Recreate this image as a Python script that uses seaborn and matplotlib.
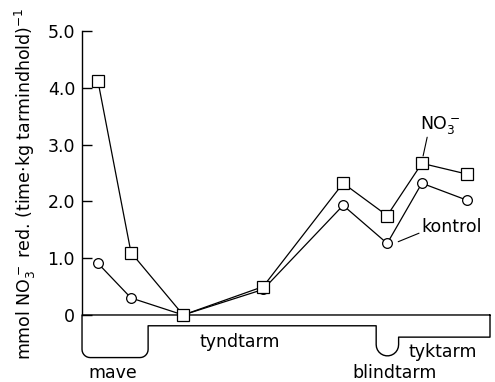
import numpy as np
import pandas as pd
import matplotlib
matplotlib.use("Agg")
import matplotlib.pyplot as plt
import seaborn as sns

# --- data ---
positions = [3.9, 12.0, 24.8, 44.4, 64.0, 74.8, 83.3, 94.4]   # position along gut
no3_values = [4.12, 1.10, 0.0, 0.50, 2.32, 1.75, 2.67, 2.48]
kontrol_values = [0.91, 0.30, 0.0, 0.45, 1.93, 1.26, 2.32, 2.02]
y_ticks = [0, 1, 2, 3, 4, 5]
y_ticklabels = ["0", "1.0", "2.0", "3.0", "4.0", "5.0"]
section_labels = ["mave", "tyndtarm", "blindtarm", "tyktarm"]

sns.set_style("ticks")
plt.rcParams['font.family'] = ['DejaVu Sans']
plt.rcParams['text.color'] = 'black'
plt.rcParams['ytick.color'] = 'black'
plt.rcParams['ytick.labelcolor'] = 'black'
plt.rcParams['axes.edgecolor'] = 'black'

fig = plt.figure(figsize=(4.95, 3.82), dpi=100)
ax = fig.add_axes([0.1657, 0.0, 0.8242, 0.9188])

df = pd.DataFrame({"pos": positions * 2,
                   "val": no3_values + kontrol_values,
                   "serie": ["NO3"] * len(positions) + ["kontrol"] * len(positions)})

sns.lineplot(data=df[df.serie == "NO3"], x="pos", y="val", ax=ax, color="black",
             lw=0.9, marker="s", markersize=8, markerfacecolor="white",
             markeredgecolor="black", markeredgewidth=0.9, zorder=4)
sns.lineplot(data=df[df.serie == "kontrol"], x="pos", y="val", ax=ax, color="black",
             lw=0.9, marker="o", markersize=7, markerfacecolor="white",
             markeredgecolor="black", markeredgewidth=0.9, zorder=3)

ax.set_xlim(0, 100)
ax.set_ylim(-1.18, 5.0)

# gut outline (schematic)
asp = 4.08 / 56.8   # x-data units -> y-data units for equal pixel size
rx = 2.0
ry = rx * asp
xs, ys = [100, 0, 0], [0, 0, -0.75 + ry]
t = np.linspace(np.pi, 1.5 * np.pi, 8)
xs += list(rx + rx * np.cos(t)); ys += list(-0.75 + ry + ry * np.sin(t))
t = np.linspace(1.5 * np.pi, 2 * np.pi, 8)
xs += list(16.2 - rx + rx * np.cos(t)); ys += list(-0.75 + ry + ry * np.sin(t))
xs += [16.2, 72.1]; ys += [-0.19, -0.19]
pr = (77.6 - 72.1) / 2
pry = pr * asp
t = np.linspace(np.pi, 2 * np.pi, 14)
xs += list(72.1 + pr + pr * np.cos(t)); ys += list(-0.72 + pry + pry * np.sin(t))
xs += [77.6, 100, 100]; ys += [-0.39, -0.39, 0]
ax.plot(xs, ys, color="black", lw=1.0, clip_on=False, zorder=2)

ax.spines["top"].set_visible(False)
ax.spines["right"].set_visible(False)
ax.spines["bottom"].set_visible(False)
ax.spines["left"].set_bounds(0, 5)
ax.spines["left"].set_linewidth(1.0)
ax.set_yticks(y_ticks)
ax.set_yticklabels(y_ticklabels)
ax.tick_params(axis="y", direction="in", length=7, width=1.0, pad=5, labelsize=12.5)
ax.set_xticks([])
ax.set_xlabel("")
ax.set_ylabel("")

fig.text(25 / 495, 1 - 184 / 382, r"mmol NO$_3^-$ red. (time$\cdot$kg tarmindhold)$^{-1}$",
         rotation=90, ha="center", va="center", fontsize=12.5)

fs = 12.5
ax.text(7.6, -1.03, section_labels[0], ha="center", va="center", fontsize=fs)
ax.text(38.7, -0.47, section_labels[1], ha="center", va="center", fontsize=fs)
ax.text(76.5, -1.03, section_labels[2], ha="center", va="center", fontsize=fs)
ax.text(88.5, -0.65, section_labels[3], ha="center", va="center", fontsize=fs)

# series annotations
ax.text(87.7, 3.35, r"NO$_3^-$", ha="center", va="center", fontsize=fs)
ax.plot([84.6, 83.6], [3.13, 2.80], color="black", lw=0.8)
ax.text(83.3, 1.55, "kontrol", ha="left", va="center", fontsize=fs)
ax.plot([77.5, 82.6], [1.29, 1.44], color="black", lw=0.8)

fig.savefig("out.png", dpi=100)
